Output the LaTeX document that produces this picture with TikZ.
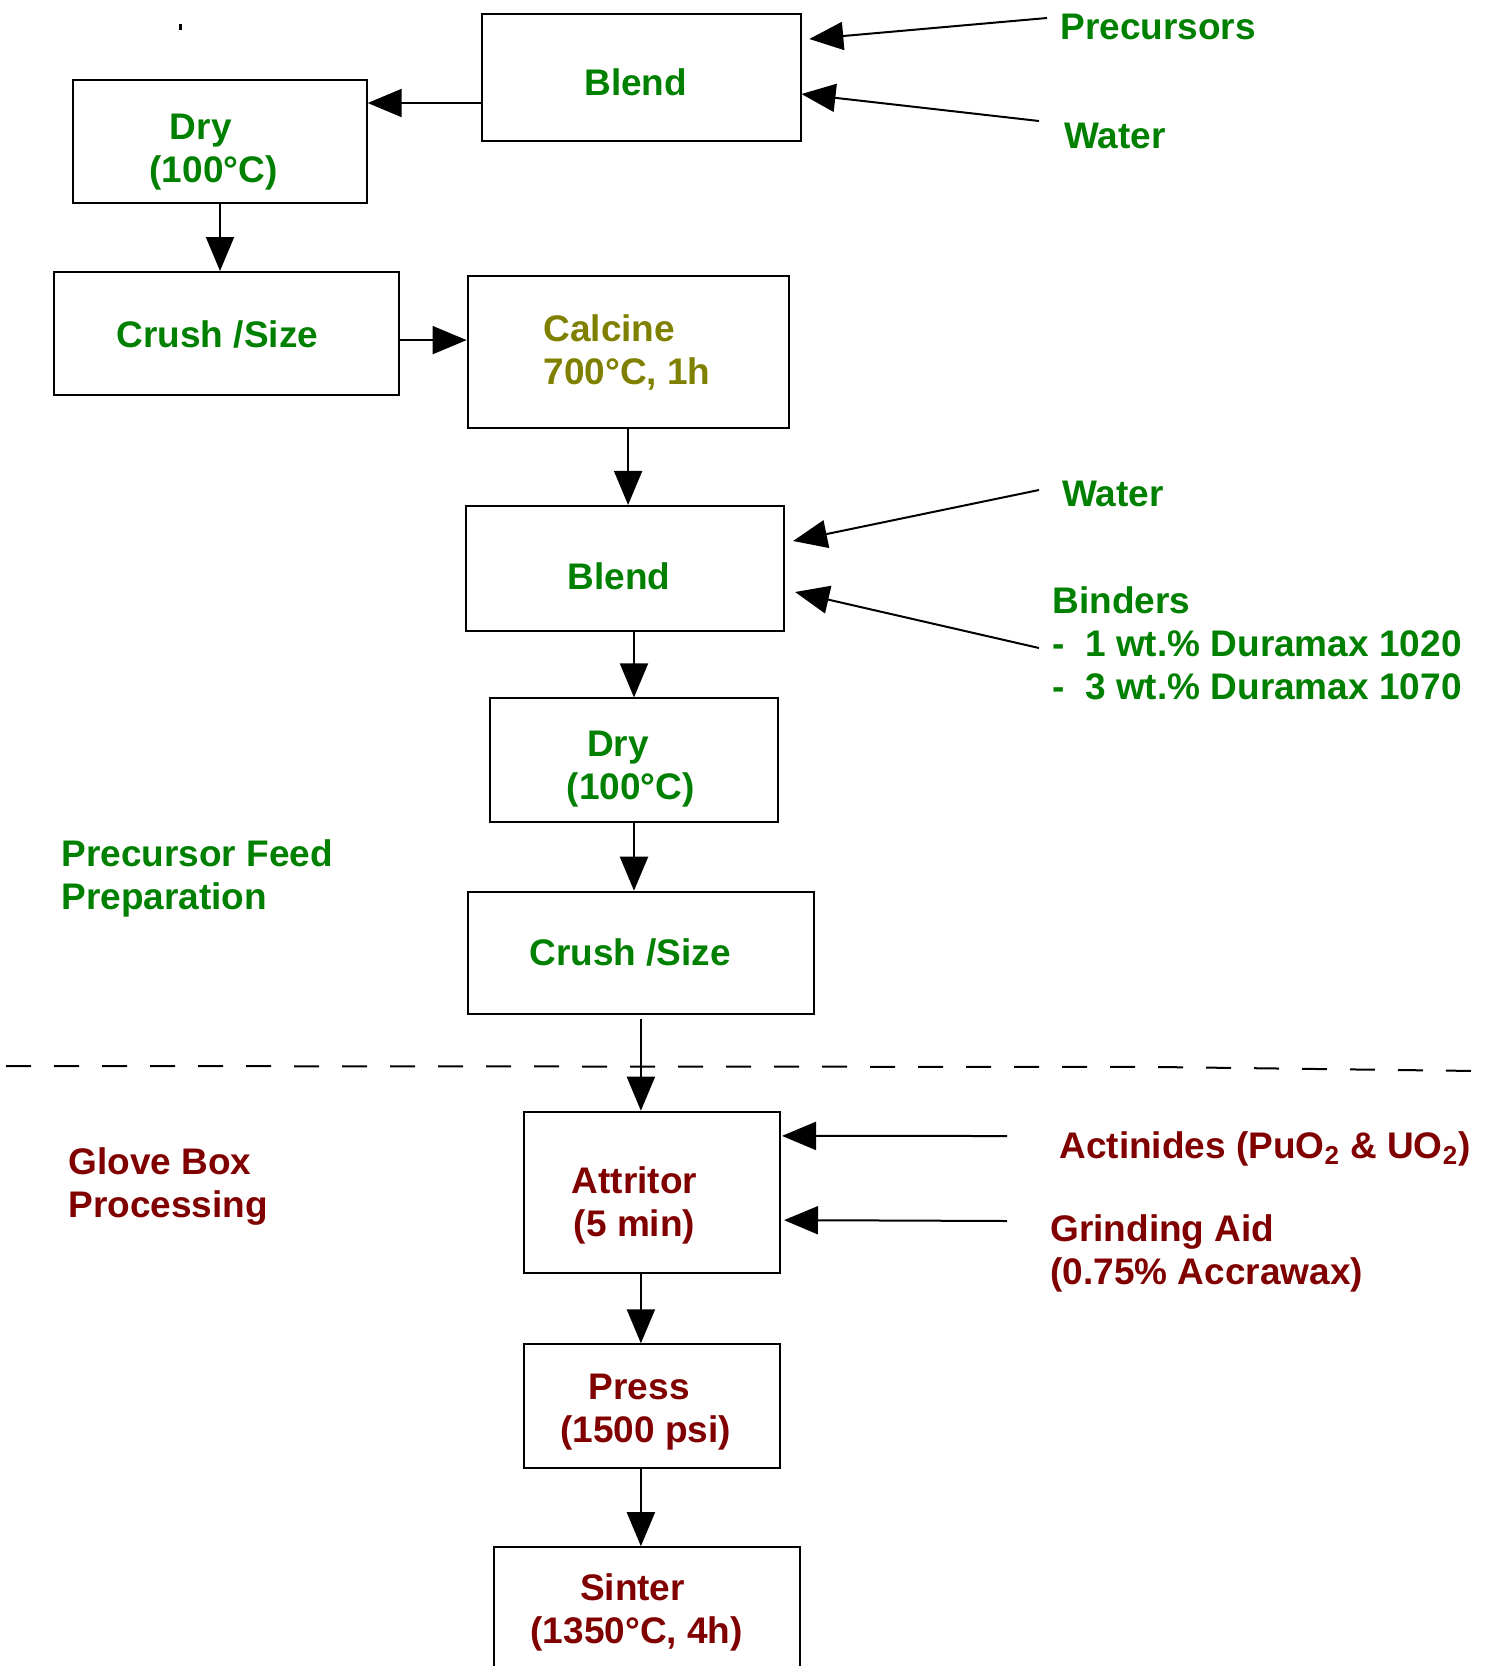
\documentclass[tikz,border=0pt]{standalone}
\usepackage{fontspec}
\setmainfont{Liberation Sans}
\usepackage{xcolor}
\usetikzlibrary{arrows.meta,positioning,calc}
\definecolor{prepgreen}{RGB}{0,128,0}
\definecolor{calcolive}{RGB}{128,128,0}
\definecolor{glovered}{RGB}{128,0,0}

\begin{document}
\begin{tikzpicture}[x = .5pt, y = -.5pt,
  stepbox/.style = {draw, line width = 1pt, inner sep = 0pt},
  steptext/.style = {align = center, inner sep = 0pt, font = \fontsize{18.5}{21.5}\selectfont\bfseries},
  flow/.style = {line width = 1pt, -{Triangle[length = 17pt, width = 14pt]}},
  note/.style = {anchor = west, align = left, inner sep = 0pt, font = \fontsize{18.5}{21.5}\selectfont\bfseries}]
\useasboundingbox (0,0) rectangle (1489,1666);
\fill (179,24) rectangle (182,30);
\node[stepbox, minimum width = 159.5pt, minimum height = 63.8pt] (blendA) at (641,77.6) {};
\node[stepbox, minimum width = 146.7pt, minimum height = 61.7pt] (dryA) at (220,141.4) {};
\node[stepbox, minimum width = 172.2pt, minimum height = 61.7pt] (crushA) at (226.4,333.7) {};
\node[stepbox, minimum width = 160.5pt, minimum height = 76pt] (calc) at (628.1,352.3) {};
\node[stepbox, minimum width = 159.4pt, minimum height = 62.7pt] (blendB) at (624.9,568.6) {};
\node[stepbox, minimum width = 144pt, minimum height = 61.6pt] (dryB) at (634,760) {};
\node[stepbox, minimum width = 173.3pt, minimum height = 61.1pt] (crushB) at (640.9,952.8) {};
\node[stepbox, minimum width = 128pt, minimum height = 80.8pt] (att) at (652,1192.5) {};
\node[stepbox, minimum width = 128pt, minimum height = 61.7pt] (press) at (652,1406) {};
\node[stepbox, minimum width = 153pt, minimum height = 62.8pt] (sinter) at (647.3,1610) {};
\node[steptext, text = prepgreen] (blendAtxt) at (635.7,81.9) {Blend};
\node[steptext, text = prepgreen] (dryAtxt) at (213.6,152) {Dry\hspace*{12.8pt}\\(100°C)};
\node[steptext, text = prepgreen] (crushAtxt) at (217.4,334.7) {Crush /Size};
\node[steptext, align = left, text = calcolive] (calcTxt) at (627,352.8) {Calcine\\700°C, 1h};
\node[steptext, text = prepgreen] (blendBtxt) at (619.1,576) {Blend};
\node[steptext, text = prepgreen] (dryBtxt) at (630.8,769) {Dry\hspace*{12.8pt}\\(100°C)};
\node[steptext, text = prepgreen] (crushBtxt) at (630.3,952.8) {Crush /Size};
\node[steptext, text = glovered] (attTxt) at (634.5,1205.8) {Attritor\\(5 min)};
\node[steptext, text = glovered] (pressTxt) at (645.6,1411.8) {Press\hspace*{6.4pt}\\(1500 psi)};
\node[steptext, text = glovered] (sinterTxt) at (636.7,1612.7) {Sinter\hspace*{4.2pt}\\(1350°C, 4h)};
\node[note, text = prepgreen] (precLbl) at (1060,27) {Precursors};
\node[note, text = prepgreen] (waterALbl) at (1064,136) {Water};
\node[note, text = prepgreen] (waterBLbl) at (1062,494) {Water};
\node[note, text = prepgreen] (bindLbl) at (1052,643) {Binders\\-\ \ 1 wt.\% Duramax 1020\\-\ \ 3 wt.\% Duramax 1070};
\node[note, text = glovered] (actLbl) at (1059,1149) {Actinides (PuO\textsubscript{2} \& UO\textsubscript{2})};
\node[note, text = glovered] (grindLbl) at (1050,1253) {Grinding Aid\\(0.75\% Accrawax)};
\node[note, text = prepgreen] (prepLbl) at (61,878.7) {Precursor Feed\\Preparation};
\node[note, text = glovered] (gloveLbl) at (68,1186) {Glove Box\\Processing};
\coordinate (precIn) at (1047,18);
\coordinate (waterAIn) at (1039,121);
\coordinate (waterBIn) at (1039,490);
\coordinate (bindIn) at (1039,648);
\coordinate (actIn) at (1007,1136);
\coordinate (grindIn) at (1007,1221);
\draw[flow] ([yshift = -12.7pt]blendA.west) -- ([yshift = -12.7pt]blendA.west -| dryA.east);
\draw[flow] (dryA.south) -- (dryA.south |- crushA.north);
\draw[flow] ([yshift = -3.2pt]crushA.east) -- ([yshift = -3.2pt]crushA.east -| calc.west);
\draw[flow] (calc.south) -- (calc.south |- blendB.north);
\draw[flow] (dryB.north |- blendB.south) -- (dryB.north);
\draw[flow] (dryB.south) -- (dryB.south |- crushB.north);
\draw[flow] ([yshift = -2pt]crushB.south) -- (crushB.south |- att.north);
\draw[flow] (att.south -| crushB.south) -- (press.north -| crushB.south);
\draw[flow] (press.south -| crushB.south) -- (sinter.north -| crushB.south);
\draw[flow] (precIn) -- ([xshift = 3.9pt, yshift = 19.3pt]blendA.east);
\draw[flow] (waterAIn) -- ([yshift = -8.2pt]blendA.east);
\draw[flow] (waterBIn) -- ([xshift = 3.9pt, yshift = 13.8pt]blendB.east);
\draw[flow] (bindIn) -- ([xshift = 4.9pt, yshift = -11.7pt]blendB.east);
\draw[flow] (actIn) -- ([xshift = .5pt, yshift = 28.3pt]att.east);
\draw[flow] (grindIn) -- ([xshift = 1.5pt, yshift = -13.8pt]att.east);
\draw[line width = 1pt, dash pattern = on 12.5pt off 11.5pt] (6,1066) -- (1158,1067) -- (1477,1071);
\end{tikzpicture}
\end{document}
